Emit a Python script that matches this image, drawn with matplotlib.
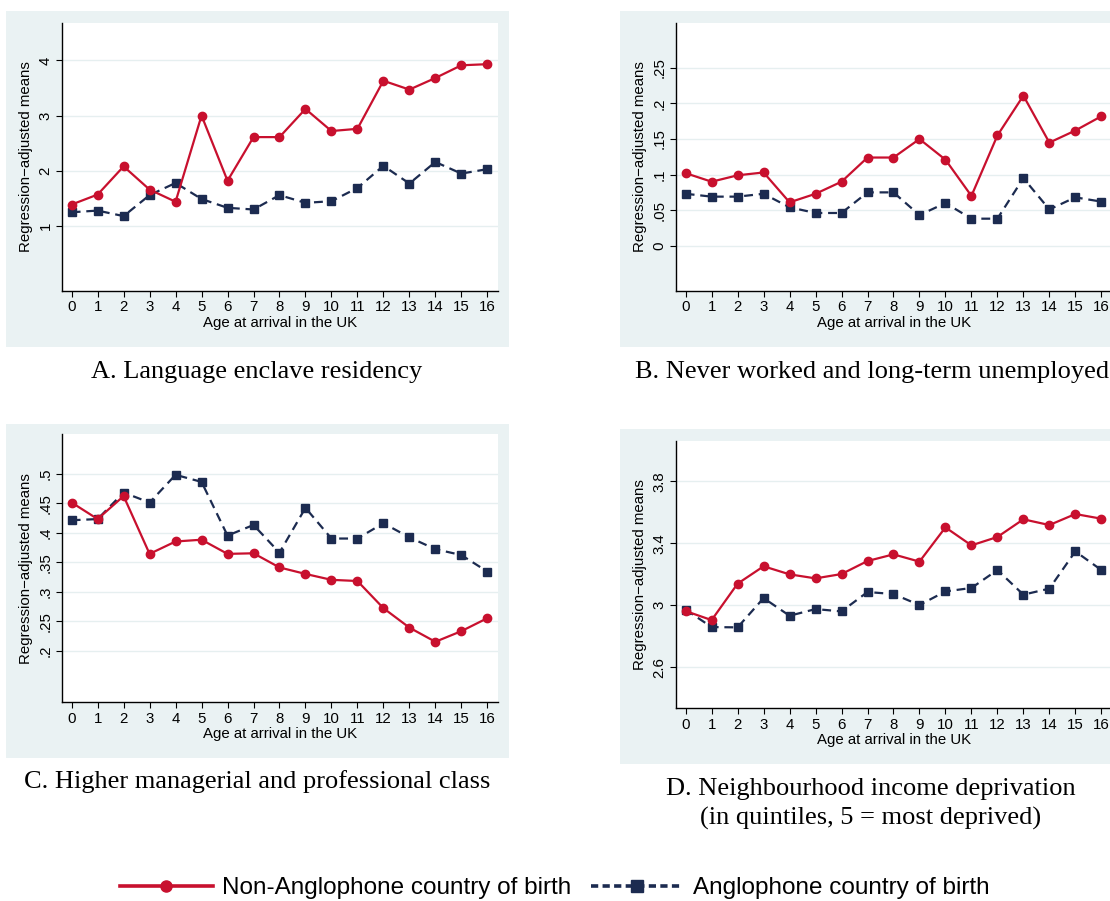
import matplotlib
matplotlib.use("Agg")
import matplotlib.pyplot as plt
from matplotlib.patches import Rectangle
from matplotlib.lines import Line2D

ages = list(range(17))

# Panel A: Language enclave residency
a_non = [1.39, 1.57, 2.08, 1.66, 1.44, 3.00, 1.82, 2.61, 2.61, 3.12, 2.72, 2.76, 3.63, 3.47, 3.68, 3.91, 3.93]
a_ang = [1.25, 1.28, 1.18, 1.56, 1.78, 1.49, 1.33, 1.30, 1.56, 1.42, 1.45, 1.69, 2.09, 1.77, 2.16, 1.95, 2.03]
a_ticks = [1, 2, 3, 4]
a_ticklabels = ["1", "2", "3", "4"]

# Panel B: Never worked and long-term unemployed
b_non = [0.102, 0.090, 0.099, 0.103, 0.061, 0.073, 0.090, 0.124, 0.124, 0.150, 0.121, 0.070, 0.155, 0.211, 0.145, 0.162, 0.182]
b_ang = [0.073, 0.069, 0.069, 0.073, 0.054, 0.046, 0.046, 0.075, 0.075, 0.043, 0.060, 0.038, 0.038, 0.095, 0.051, 0.068, 0.062]
b_ticks = [0, 0.05, 0.1, 0.15, 0.2, 0.25]
b_ticklabels = ["0", ".05", ".1", ".15", ".2", ".25"]

# Panel C: Higher managerial and professional class
c_non = [0.451, 0.423, 0.462, 0.364, 0.385, 0.388, 0.364, 0.365, 0.341, 0.330, 0.320, 0.318, 0.272, 0.239, 0.215, 0.233, 0.255]
c_ang = [0.421, 0.423, 0.468, 0.451, 0.498, 0.486, 0.395, 0.413, 0.366, 0.442, 0.390, 0.390, 0.416, 0.392, 0.372, 0.362, 0.334]
c_ticks = [0.2, 0.25, 0.3, 0.35, 0.4, 0.45, 0.5]
c_ticklabels = [".2", ".25", ".3", ".35", ".4", ".45", ".5"]

# Panel D: Neighbourhood income deprivation
d_non = [2.963, 2.905, 3.140, 3.252, 3.200, 3.174, 3.202, 3.286, 3.329, 3.282, 3.503, 3.387, 3.441, 3.555, 3.518, 3.589, 3.559]
d_ang = [2.972, 2.860, 2.858, 3.047, 2.933, 2.976, 2.961, 3.086, 3.073, 3.002, 3.090, 3.112, 3.228, 3.069, 3.108, 3.348, 3.228]
d_ticks = [2.6, 3.0, 3.4, 3.8]
d_ticklabels = ["2.6", "3", "3.4", "3.8"]

titles = ["A. Language enclave residency",
          "B. Never worked and long-term unemployed",
          "C. Higher managerial and professional class",
          "D. Neighbourhood income deprivation\n(in quintiles, 5 = most deprived)"]
series_labels = ["Non-Anglophone country of birth", "Anglophone country of birth"]

RED = "#C8102E"
NAVY = "#1C2B50"
BG = "#EAF2F3"
GRID = "#E6EFF0"

W, H = 1110, 901
fig = plt.figure(figsize=(W / 100, H / 100), dpi=100)
fig.patch.set_facecolor("white")
plt.rcParams['font.family'] = ['Liberation Sans', 'DejaVu Sans']


def rect(l, t, r, b):
    return [l / W, 1 - b / H, (r - l) / W, (b - t) / H]


panels = [
    dict(non=a_non, ang=a_ang, ticks=a_ticks, tl=a_ticklabels, ylim=(-0.17, 4.67),
         ax=(62.3, 23.3, 497.7, 290.7), bg=(6, 11, 509, 347), title_y=372, title_x=257),
    dict(non=b_non, ang=b_ang, ticks=b_ticks, tl=b_ticklabels, ylim=(-0.0633, 0.3128),
         ax=(676.3, 23.3, 1111.7, 290.7), bg=(620, 11, 1125, 347), title_y=372, title_x=872),
    dict(non=c_non, ang=c_ang, ticks=c_ticks, tl=c_ticklabels, ylim=(0.1124, 0.5667),
         ax=(62.3, 434.3, 497.7, 702.3), bg=(6, 424, 509, 758), title_y=782, title_x=257),
    dict(non=d_non, ang=d_ang, ticks=d_ticks, tl=d_ticklabels, ylim=(2.338, 4.062),
         ax=(676.3, 440.7, 1111.7, 708.0), bg=(620, 429, 1125, 764), title_y=804, title_x=871),
]

for p, title in zip(panels, titles):
    l, t, r, b = p["bg"]
    fig.patches.append(Rectangle((l / W, 1 - b / H), (r - l) / W, (b - t) / H,
                                 transform=fig.transFigure, facecolor=BG,
                                 edgecolor="none", zorder=-5))
    ax = fig.add_axes(rect(*p["ax"]))
    ax.set_zorder(2)
    ax.set_facecolor("white")
    ax.set_xlim(-0.36, 16.4)
    ax.set_ylim(*p["ylim"])
    ax.plot(ages, p["ang"], color=NAVY, lw=1.6, ls=(0, (4, 2.6)), marker="s",
            ms=6, mfc=NAVY, mec=NAVY, zorder=3)
    ax.plot(ages, p["non"], color=RED, lw=1.6, ls="-", marker="o",
            ms=6, mfc=RED, mec=RED, zorder=4)
    ax.set_xticks(ages)
    ax.set_xticklabels([str(a) for a in ages])
    ax.set_yticks(p["ticks"])
    ax.set_yticklabels(p["tl"], rotation=90, va="center")
    ax.grid(axis="y", color=GRID, lw=1.0, zorder=0)
    ax.set_axisbelow(True)
    for s in ["top", "right"]:
        ax.spines[s].set_visible(False)
    for s in ["left", "bottom"]:
        ax.spines[s].set_linewidth(1.0)
        ax.spines[s].set_color("black")
    ax.tick_params(axis="both", direction="out", length=4, width=0.8,
                   labelsize=10.8, colors="black", pad=3)
    ax.set_xlabel("Age at arrival in the UK", fontsize=10.8, labelpad=1)
    ax.set_ylabel("Regression\u2212adjusted means", fontsize=10.8, labelpad=4)
    fig.text(p["title_x"] / W, 1 - p["title_y"] / H, title, ha="center",
             va="center", fontsize=19, family=["Liberation Serif", "DejaVu Serif"],
             linespacing=1.4)

handles = [Line2D([], [], color=RED, lw=2.6, ls="-", marker="o", ms=8),
           Line2D([], [], color=NAVY, lw=2.6, ls=(0, (2, 1.2)), marker="s", ms=8)]
fig.legend(handles, series_labels, loc="center", bbox_to_anchor=(0.5, 1 - 888 / H),
           ncol=2, frameon=False, fontsize=17.5, handlelength=3.8, handletextpad=0.4,
           columnspacing=0.8)

fig.savefig("out.png", dpi=100)
